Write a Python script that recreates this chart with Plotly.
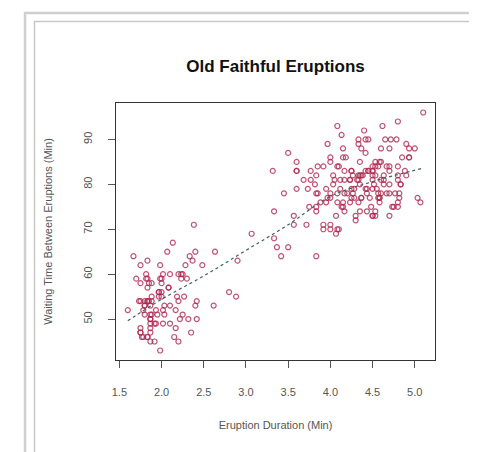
import plotly.graph_objects as go

eruptions = [3.600,1.800,3.333,2.283,4.533,2.883,4.700,3.600,1.950,4.350,1.833,3.917,4.200,1.750,4.700,2.167,1.750,4.800,1.600,4.250,
1.800,1.750,3.450,3.067,4.533,3.600,1.967,4.083,3.850,4.433,4.300,4.467,3.367,4.033,3.833,2.017,1.867,4.833,1.833,4.783,
4.350,1.883,4.567,1.750,4.533,3.317,3.833,2.100,4.633,2.000,4.800,4.716,1.833,4.833,1.733,4.883,3.717,1.667,4.567,4.317,
2.233,4.500,1.750,4.800,1.817,4.400,4.167,4.700,2.067,4.700,4.033,1.967,4.500,4.000,1.983,5.067,2.017,4.567,3.883,3.600,
4.133,4.333,4.100,2.633,4.067,4.933,3.950,4.517,2.167,4.000,2.200,4.333,1.867,4.817,1.833,4.300,4.667,3.750,1.867,4.900,
2.483,4.367,2.100,4.500,4.050,1.867,4.700,1.783,4.850,3.683,4.733,2.300,4.900,4.417,1.700,4.633,2.317,4.600,1.817,4.417,
2.617,4.067,4.250,1.967,4.600,3.767,1.917,4.500,2.267,4.650,1.867,4.167,2.800,4.333,1.833,4.383,1.883,4.933,2.033,3.733,
4.233,2.233,4.533,4.817,4.333,1.983,4.633,2.017,5.100,1.800,5.033,4.000,2.400,4.600,3.567,4.000,4.500,4.083,1.800,3.967,
2.200,4.150,2.000,3.833,3.500,4.583,2.367,5.000,1.933,4.617,1.917,2.083,4.583,3.333,4.167,4.333,4.500,2.417,4.000,4.167,
1.883,4.583,4.250,3.767,2.033,4.433,4.083,1.833,4.417,2.183,4.800,1.833,4.800,4.100,3.966,4.233,3.500,4.366,2.250,4.667,
2.100,4.350,4.133,1.867,4.600,1.783,4.367,3.850,1.933,4.500,2.383,4.700,1.867,3.833,3.417,4.233,2.400,4.800,2.000,4.150,
1.867,4.267,1.750,4.483,4.000,4.117,4.083,4.267,3.917,4.550,4.083,2.417,4.183,2.217,4.450,1.883,1.850,4.283,3.950,2.333,
4.150,2.350,4.933,2.900,4.583,3.833,2.083,4.367,2.133,4.350,2.200,4.450,3.567,4.500,4.150,3.817,3.917,4.450,2.000,4.283,
4.767,4.533,1.850,4.250,1.983,2.250,4.750,4.117,2.150,4.417,1.767,4.433]

waiting = [79,54,74,62,85,55,88,85,51,85,54,84,78,47,83,52,62,84,52,79,
51,47,78,69,74,83,55,76,78,79,73,77,66,80,74,52,48,80,59,90,
80,58,84,58,73,83,64,53,82,59,75,90,54,80,54,83,71,64,77,81,
59,84,48,82,60,92,78,78,65,73,82,56,79,71,62,76,60,78,76,83,
75,82,70,65,73,88,76,80,48,86,60,90,50,78,63,72,84,75,51,82,
62,88,49,83,81,47,84,52,86,81,75,59,89,79,59,81,50,85,59,87,
53,69,77,56,88,81,45,82,55,90,45,83,56,89,46,82,51,86,53,79,
81,60,82,77,76,59,80,49,96,53,77,77,65,81,71,70,81,93,53,89,
45,86,58,78,66,76,63,88,52,93,49,57,77,68,81,81,73,50,85,74,
55,77,83,83,51,78,84,46,83,55,81,57,76,84,77,81,87,77,51,78,
60,82,91,53,78,46,77,84,49,83,71,80,49,75,64,76,53,94,55,76,
50,82,54,75,78,79,78,78,70,79,70,54,86,50,90,54,54,77,79,64,
75,47,86,63,85,82,57,82,67,74,54,83,73,73,88,80,71,83,56,79,
78,84,58,83,43,60,75,81,46,90,46,74]

# smooth trend line
trend_x = [1.60, 2.00, 2.50, 3.00, 3.50, 4.00, 4.50, 5.10]
trend_y = [49.6, 54.4, 59.6, 65.3, 71.0, 77.3, 80.6, 83.6]

x_ticks = [1.5, 2.0, 2.5, 3.0, 3.5, 4.0, 4.5, 5.0]
y_ticks = [50, 60, 70, 80, 90]

FONT = "Liberation Sans, Arial, sans-serif"

fig = go.Figure()
fig.add_trace(go.Scatter(
    x=eruptions, y=waiting, mode="markers",
    marker=dict(symbol="circle-open", size=5, color="rgba(175,40,80,0.8)", line=dict(width=1.2)),
    hoverinfo="x+y", showlegend=False))
fig.add_trace(go.Scatter(
    x=trend_x, y=trend_y, mode="lines", line=dict(color="#3f6262", width=1.2, dash="dot", shape="spline"),
    showlegend=False))

L, R, T, B = 108, 427, 95, 352
W, H = 477, 452
pw, ph = R - L, B - T
def px(x): return (x - L) / pw
def py(y): return (B - y) / ph

shapes = [
    dict(type="path", xref="paper", yref="paper",
         path=f"M {px(17)} {py(460)} L {px(17)} {py(5)} L {px(474)} {py(5)} L {px(474)} {py(460)}",
         line=dict(color="#cfcfcf", width=2.5)),
    dict(type="path", xref="paper", yref="paper",
         path=f"M {px(26.5)} {py(460)} L {px(26.5)} {py(13.5)} L {px(469)} {py(13.5)} L {px(469)} {py(460)}",
         line=dict(color="#c8c8c8", width=1.5)),
]

fig.update_layout(
    width=W, height=H,
    margin=dict(l=L, r=W - R, t=T, b=H - B),
    paper_bgcolor="white", plot_bgcolor="white",
    font=dict(family=FONT, color="#444"),
    title=dict(text="<b>Old Faithful Eruptions</b>", x=0.5, xref="paper",
               y=1 - 58 / H, yref="container", yanchor="middle",
               font=dict(size=17, color="#111", family=FONT)),
    shapes=shapes,
    xaxis=dict(range=[1.46, 5.24], tickvals=x_ticks, ticktext=[f"{v:.1f}" for v in x_ticks],
               showgrid=False, zeroline=False, showline=True, linecolor="#333", linewidth=1.2,
               mirror=True, ticks="outside", ticklen=7, tickcolor="#555",
               tickfont=dict(size=11, color="#555"), ticklabelstandoff=15,
               title=dict(text="Eruption Duration (Min)", font=dict(size=11, color="#555"), standoff=24)),
    yaxis=dict(range=[40.88, 98.12], tickvals=y_ticks,
               showgrid=False, zeroline=False, showline=True, linecolor="#333", linewidth=1.2,
               mirror=True, ticks="outside", ticklen=7, tickcolor="#555", tickangle=-90,
               tickfont=dict(size=11, color="#555"), ticklabelstandoff=12,
               title=dict(text="Waiting Time Between Eruptions (Min)", font=dict(size=11, color="#555"), standoff=26)),
)

fig.write_html("out.html")
